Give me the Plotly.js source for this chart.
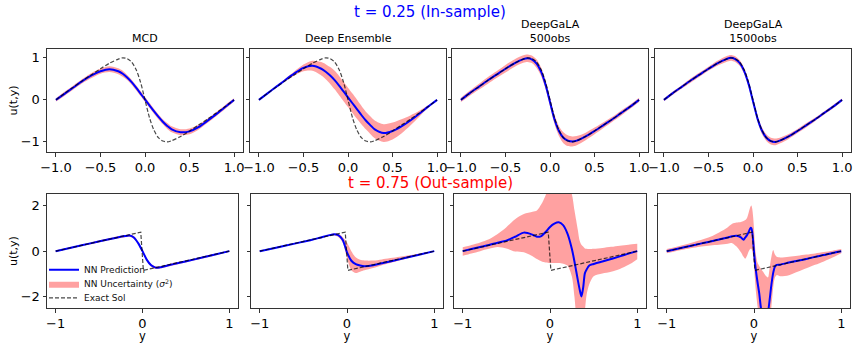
<!DOCTYPE html>
<html>
<head>
<meta charset="utf-8">
<script src="https://cdn.plot.ly/plotly-3.0.1.min.js"></script>
<style>html,body{margin:0;padding:0;background:#fff}#chart{width:854px;height:343px}</style>
</head>
<body>
<div id="chart"></div>
<script>
// ---------------- DATA ----------------
const ROW_TITLES = ["t = 0.25 (In-sample)", "t = 0.75 (Out-sample)"];
const PANEL_TITLES = ["MCD", "Deep Ensemble", "DeepGaLA<br>500obs", "DeepGaLA<br>1500obs"];
const LEGEND_NAMES = ["NN Prediction", "NN Uncertainty (<i>σ</i><sup>2</sup>)", "Exact Sol"];
const X_TICKVALS_TOP = [-1, -0.5, 0, 0.5, 1];
const X_TICKTEXT_TOP = ["−1.0", "−0.5", "0.0", "0.5", "1.0"];
const X_TICKVALS_BOT = [-1, 0, 1];
const X_TICKTEXT_BOT = ["−1", "0", "1"];
const Y_TICKVALS_TOP = [-1, 0, 1];
const Y_TICKTEXT_TOP = ["−1", "0", "1"];
const Y_TICKVALS_BOT = [-2, 0, 2];
const Y_TICKTEXT_BOT = ["−2", "0", "2"];

// t = 0.25 (top row)
const Y_TOP = [-1,-0.9,-0.8,-0.7,-0.6,-0.5,-0.4,-0.3,-0.25,-0.2,-0.15,-0.1,-0.05,0,0.05,0.1,0.15,0.2,0.25,0.3,0.4,0.5,0.6,0.7,0.8,0.9,1];
const EXACT_T025 = [0,0.16,0.31,0.46,0.6,0.74,0.87,0.97,1.0,0.98,0.9,0.72,0.42,0.0,-0.42,-0.72,-0.9,-0.98,-1.0,-0.97,-0.87,-0.74,-0.6,-0.46,-0.31,-0.16,0];
const MCD_T025 = [0,0.15,0.3,0.45,0.58,0.68,0.73,0.68,0.62,0.53,0.42,0.29,0.15,0.01,-0.13,-0.27,-0.4,-0.52,-0.62,-0.7,-0.77,-0.75,-0.65,-0.5,-0.34,-0.17,0];
const MCD_SIG_T025 = [0.04,0.05,0.05,0.05,0.06,0.06,0.07,0.07,0.07,0.06,0.06,0.06,0.06,0.06,0.06,0.06,0.06,0.06,0.07,0.07,0.07,0.07,0.06,0.05,0.05,0.05,0.04];
const DE_T025 = [0,0.16,0.32,0.48,0.63,0.76,0.81,0.74,0.67,0.58,0.47,0.34,0.2,0.06,-0.08,-0.22,-0.36,-0.49,-0.6,-0.7,-0.79,-0.74,-0.63,-0.49,-0.33,-0.16,0];
const DE_SIG_T025 = [0.01,0.01,0.02,0.03,0.05,0.08,0.12,0.16,0.18,0.2,0.22,0.23,0.23,0.23,0.23,0.23,0.22,0.21,0.21,0.21,0.21,0.2,0.17,0.12,0.07,0.03,0.01];
const G500_T025 = [0,0.16,0.31,0.46,0.6,0.74,0.87,0.97,0.99,0.96,0.86,0.67,0.36,-0.05,-0.46,-0.74,-0.9,-0.97,-0.99,-0.97,-0.87,-0.74,-0.6,-0.46,-0.31,-0.16,0];
const G500_SIG_T025 = [0.05,0.06,0.07,0.08,0.08,0.09,0.09,0.09,0.09,0.09,0.1,0.1,0.1,0.1,0.11,0.12,0.13,0.13,0.12,0.11,0.09,0.08,0.07,0.06,0.06,0.05,0.05];
const G1500_T025 = [0,0.16,0.31,0.46,0.6,0.74,0.87,0.97,1.0,0.97,0.88,0.69,0.38,-0.03,-0.44,-0.73,-0.9,-0.98,-1.0,-0.97,-0.87,-0.74,-0.6,-0.46,-0.31,-0.16,0];
const G1500_SIG_T025 = [0.03,0.04,0.04,0.05,0.05,0.05,0.06,0.07,0.07,0.07,0.07,0.07,0.07,0.07,0.07,0.08,0.08,0.08,0.08,0.07,0.06,0.05,0.05,0.04,0.04,0.04,0.03];

// t = 0.75 (bottom row)
const Y_EXACT_BOT = [-1,-0.5,-0.02,0.01,0.5,1];
const EXACT_T075 = [0,0.42,0.83,-0.84,-0.42,0];

const Y_BOT = [-1,-0.8,-0.6,-0.4,-0.3,-0.2,-0.15,-0.1,-0.05,0,0.05,0.1,0.15,0.2,0.3,0.4,0.6,0.8,1];
const MCD_T075 = [0,0.17,0.34,0.51,0.59,0.66,0.68,0.6,0.35,0.0,-0.38,-0.62,-0.72,-0.71,-0.62,-0.53,-0.36,-0.18,0];
const MCD_SIG_T075 = [0.03,0.03,0.04,0.04,0.05,0.05,0.05,0.06,0.06,0.06,0.06,0.06,0.06,0.05,0.05,0.05,0.04,0.04,0.03];
const DE_T075 = [0,0.16,0.33,0.5,0.6,0.7,0.74,0.7,0.5,-0.05,-0.42,-0.57,-0.63,-0.66,-0.62,-0.53,-0.36,-0.18,0];
const DE_HI_T075 = [0.01,0.17,0.35,0.52,0.62,0.73,0.77,0.76,0.62,0.38,0.0,-0.27,-0.38,-0.41,-0.41,-0.36,-0.25,-0.12,0.01];
const DE_LO_T075 = [-0.01,0.15,0.31,0.48,0.57,0.66,0.7,0.62,0.38,-0.3,-0.84,-0.96,-0.9,-0.84,-0.74,-0.62,-0.41,-0.2,-0.01];

const Y_G500 = [-1,-0.9,-0.8,-0.7,-0.6,-0.5,-0.4,-0.3,-0.2,-0.15,-0.1,-0.05,0,0.05,0.1,0.15,0.2,0.25,0.28,0.3,0.32,0.34,0.36,0.38,0.4,0.42,0.45,0.5,0.6,0.7,0.8,0.9,1];
const G500_T075 = [0,0.09,0.18,0.27,0.37,0.46,0.63,0.81,0.72,0.63,0.66,0.84,1.06,1.2,1.26,1.14,0.77,0.11,-0.45,-0.87,-1.29,-1.68,-1.98,-1.6,-0.96,-0.8,-0.63,-0.56,-0.45,-0.34,-0.23,-0.11,0];
const G500_HI_T075 = [0.17,0.27,0.38,0.52,0.75,1.05,1.4,1.62,1.72,1.78,2.05,2.45,3.0,3.2,3.2,3.1,3.0,2.5,1.8,1.35,0.9,0.45,0.28,0.2,0.12,0.1,0.09,0.1,0.14,0.19,0.24,0.28,0.32];
const G500_LO_T075 = [-0.2,-0.1,0.0,0.1,0.18,0.12,-0.02,-0.05,-0.22,-0.34,-0.44,-0.5,-0.52,-0.52,-0.52,-0.55,-0.63,-1.1,-2.0,-2.8,-3.2,-3.4,-3.5,-3.2,-2.6,-1.9,-1.45,-1.1,-0.98,-0.9,-0.78,-0.6,-0.35];

const Y_G1500 = [-1,-0.8,-0.6,-0.5,-0.4,-0.3,-0.25,-0.2,-0.15,-0.12,-0.1,-0.08,-0.06,-0.04,-0.03,-0.02,-0.01,0,0.01,0.02,0.04,0.06,0.08,0.1,0.12,0.14,0.16,0.18,0.2,0.22,0.24,0.26,0.3,0.4,0.5,0.6,0.7,0.8,0.9,1];
const G1500_T075 = [0,0.17,0.34,0.42,0.51,0.6,0.65,0.67,0.6,0.5,0.6,0.7,0.85,1.02,1.0,0.82,0.45,-0.03,-0.45,-0.8,-1.35,-1.85,-2.5,-2.9,-3.1,-3.0,-2.7,-2.1,-1.45,-0.95,-0.67,-0.6,-0.59,-0.5,-0.42,-0.34,-0.25,-0.17,-0.08,0];
const G1500_HI_T075 = [0.09,0.28,0.5,0.63,0.82,1.05,1.2,1.25,1.28,1.32,1.36,1.45,1.7,1.95,2.0,1.85,1.5,1.0,0.3,-0.1,-0.5,-0.65,-0.78,-0.88,-1.0,-1.1,-1.15,-0.7,-0.23,0.05,-0.15,-0.25,-0.28,-0.24,-0.2,-0.15,-0.1,-0.04,0.02,0.09];
const G1500_LO_T075 = [-0.09,0.07,0.2,0.25,0.28,0.32,0.35,0.2,-0.05,-0.25,-0.33,-0.2,0.0,0.1,0.1,0.0,-0.2,-0.6,-1.2,-1.7,-2.4,-3.0,-3.6,-4,-4,-4,-3.8,-3.2,-2.4,-1.6,-1.15,-1.05,-1.1,-1.05,-0.9,-0.75,-0.6,-0.45,-0.28,-0.09];

// ---------------- BUILD ----------------
const plus = (a, s) => a.map((v, i) => v + s[i]);
const minus = (a, s) => a.map((v, i) => v - s[i]);

const panels = [
  {x: Y_TOP, pred: MCD_T025, lo: minus(MCD_T025, MCD_SIG_T025), hi: plus(MCD_T025, MCD_SIG_T025), ex: Y_TOP, exact: EXACT_T025, exLin: false},
  {x: Y_TOP, pred: DE_T025, lo: minus(DE_T025, DE_SIG_T025), hi: plus(DE_T025, DE_SIG_T025), ex: Y_TOP, exact: EXACT_T025, exLin: false},
  {x: Y_TOP, pred: G500_T025, lo: minus(G500_T025, G500_SIG_T025), hi: plus(G500_T025, G500_SIG_T025), ex: Y_TOP, exact: EXACT_T025, exLin: false},
  {x: Y_TOP, pred: G1500_T025, lo: minus(G1500_T025, G1500_SIG_T025), hi: plus(G1500_T025, G1500_SIG_T025), ex: Y_TOP, exact: EXACT_T025, exLin: false},
  {x: Y_BOT, pred: MCD_T075, lo: minus(MCD_T075, MCD_SIG_T075), hi: plus(MCD_T075, MCD_SIG_T075), ex: Y_EXACT_BOT, exact: EXACT_T075, exLin: true},
  {x: Y_BOT, pred: DE_T075, lo: DE_LO_T075, hi: DE_HI_T075, ex: Y_EXACT_BOT, exact: EXACT_T075, exLin: true},
  {x: Y_G500, pred: G500_T075, lo: G500_LO_T075, hi: G500_HI_T075, ex: Y_EXACT_BOT, exact: EXACT_T075, exLin: true},
  {x: Y_G1500, pred: G1500_T075, lo: G1500_LO_T075, hi: G1500_HI_T075, ex: Y_EXACT_BOT, exact: EXACT_T075, exLin: true}
];

const W = 854, H = 343;
const FONT = "DejaVu Sans";
const XPIX = [[47,243],[250,446],[452,648],[655,851],[47,238],[251,443],[454,646],[658,850]];
const YPIX_TOP = [49,152], YPIX_BOT = [194,308.3];

const traces = [];
panels.forEach((p, i) => {
  const n = i + 1;
  const xa = 'x' + (n === 1 ? '' : n), ya = 'y' + (n === 1 ? '' : n);
  const first = i === 0;
  traces.push({x: p.x, y: p.lo, xaxis: xa, yaxis: ya, type: 'scatter', mode: 'lines',
    line: {width: 0, shape: 'spline', smoothing: 0.8}, showlegend: false, hoverinfo: 'skip'});
  traces.push({x: p.x, y: p.hi, xaxis: xa, yaxis: ya, type: 'scatter', mode: 'lines',
    line: {width: 0, shape: 'spline', smoothing: 0.8}, fill: 'tonexty', fillcolor: 'rgba(255,0,0,0.37)',
    name: LEGEND_NAMES[1], legend: 'legend2', showlegend: first});
  traces.push({x: p.x, y: p.pred, xaxis: xa, yaxis: ya, type: 'scatter', mode: 'lines',
    line: {color: '#0000ff', width: 2, shape: 'spline', smoothing: 0.8},
    name: LEGEND_NAMES[0], legend: 'legend', showlegend: first});
  traces.push({x: p.ex, y: p.exact, xaxis: xa, yaxis: ya, type: 'scatter', mode: 'lines',
    line: {color: 'rgba(0,0,0,0.72)', width: 1.2, dash: '4px,2px', shape: p.exLin ? 'linear' : 'spline', smoothing: 0.8},
    name: LEGEND_NAMES[2], legend: 'legend3', showlegend: first});
});

const legendBase = (ytop) => ({x: 44/W, y: 1 - ytop/H, xanchor: 'left', yanchor: 'top', bgcolor: 'rgba(0,0,0,0)',
  borderwidth: 0, font: {family: FONT, size: 9, color: '#111'}, itemwidth: 30});

const layout = {
  width: W, height: H,
  margin: {l: 0, r: 0, t: 0, b: 0},
  paper_bgcolor: '#fff', plot_bgcolor: '#fff',
  font: {family: FONT, color: '#000', size: 11},
  showlegend: true,
  legend: legendBase(255.3),
  legend2: legendBase(269.3),
  legend3: legendBase(283.3),
  annotations: []
};

for (let i = 0; i < 8; i++) {
  const n = i + 1, top = i < 4;
  const xk = 'xaxis' + (n === 1 ? '' : n), yk = 'yaxis' + (n === 1 ? '' : n);
  const yp = top ? YPIX_TOP : YPIX_BOT;
  const common = {showline: true, mirror: true, linecolor: '#333', linewidth: 1, ticks: 'outside',
    ticklen: 3.5, tickwidth: 1, tickcolor: '#333', showgrid: false, zeroline: false,
    tickfont: {family: FONT, size: 13, color: '#000'}, fixedrange: true};
  layout[xk] = Object.assign({}, common, {
    domain: [XPIX[i][0]/W, XPIX[i][1]/W], anchor: 'y' + (n === 1 ? '' : n),
    range: [-1.1, 1.1], tickmode: 'array',
    tickvals: top ? X_TICKVALS_TOP : X_TICKVALS_BOT, ticktext: top ? X_TICKTEXT_TOP : X_TICKTEXT_BOT
  });
  if (!top) layout[xk].title = {text: 'y', font: {family: FONT, size: 11.5}, standoff: 0};
  layout[yk] = Object.assign({}, common, {
    domain: [1 - yp[1]/H, 1 - yp[0]/H], anchor: 'x' + (n === 1 ? '' : n),
    range: top ? [-1.24, 1.21] : [-2.5, 2.5], tickmode: 'array',
    tickvals: top ? Y_TICKVALS_TOP : Y_TICKVALS_BOT, ticktext: top ? Y_TICKTEXT_TOP : Y_TICKTEXT_BOT,
    showticklabels: (i === 0 || i === 4)
  });
  if (i === 0 || i === 4) layout[yk].title = {text: 'u(t,y)', font: {family: FONT, size: 11}, standoff: 0};
  if (top) {
    layout.annotations.push({text: PANEL_TITLES[i], xref: 'paper', yref: 'paper',
      x: (XPIX[i][0] + XPIX[i][1]) / 2 / W, y: 1 - 47/H, xanchor: 'center', yanchor: 'bottom',
      showarrow: false, font: {family: FONT, size: 11, color: '#000'}});
  }
}
layout.annotations.push({text: ROW_TITLES[0], xref: 'paper', yref: 'paper', x: 430.5/W, y: 1 - 11.5/H,
  xanchor: 'center', yanchor: 'middle', showarrow: false, font: {family: FONT, size: 15, color: '#0000ff'}});
layout.annotations.push({text: ROW_TITLES[1], xref: 'paper', yref: 'paper', x: 430.5/W, y: 1 - 182.5/H,
  xanchor: 'center', yanchor: 'middle', showarrow: false, font: {family: FONT, size: 15, color: '#ff0000'}});

Plotly.newPlot('chart', traces, layout, {displayModeBar: false, staticPlot: true});
</script>
</body>
</html>
